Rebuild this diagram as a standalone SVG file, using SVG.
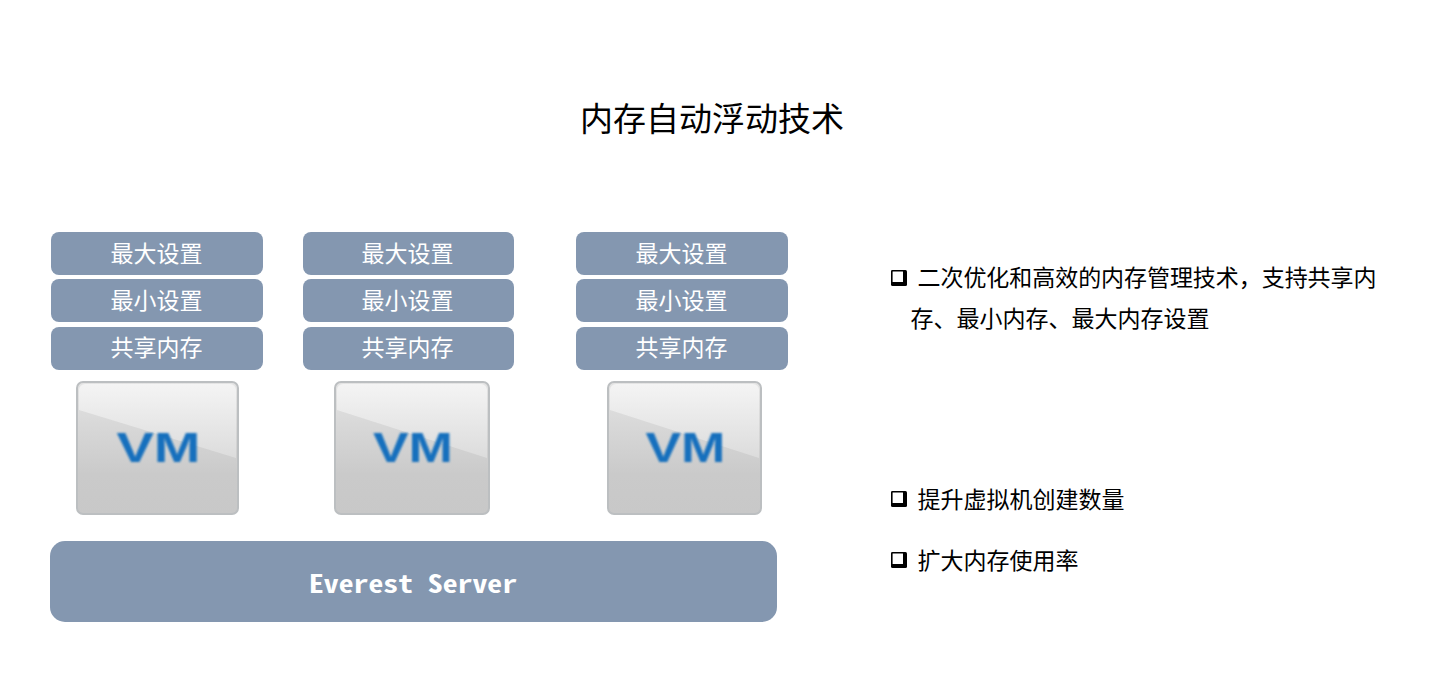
<svg xmlns="http://www.w3.org/2000/svg" width="1445" height="687" viewBox="0 0 1445 687">
<style>
text{font-family:"Noto Sans CJK SC","Noto Sans",sans-serif}
.b{fill:#8497b0}
.l{fill:#fff;font-size:23px;text-anchor:middle}
.t{fill:#000;font-size:23px}
.vm{fill:#1470bd;font-family:"Liberation Sans",sans-serif;font-weight:700;font-size:43px;text-anchor:middle}
.frame{fill:url(#low);stroke:#bcbfc1;stroke-width:2}
.gloss{fill:url(#g)}
.box{fill:#fff;stroke:#000;stroke-width:1.6}
.sh{fill:#000}
</style>
<defs>
<linearGradient id="g" x1="0" y1="0" x2="0" y2="1"><stop offset="0" stop-color="#f4f4f4"/><stop offset="1" stop-color="#dcdcdc"/></linearGradient>
<linearGradient id="low" x1="0" y1="0" x2="0" y2="1"><stop offset="0" stop-color="#e4e4e4"/><stop offset="0.7" stop-color="#cacaca"/><stop offset="1" stop-color="#c8c8c8"/></linearGradient>
<filter id="blur" x="-10%" y="-10%" width="120%" height="120%"><feGaussianBlur stdDeviation="0.8"/></filter>
<filter id="soft" x="-5%" y="-5%" width="110%" height="110%"><feGaussianBlur stdDeviation="0.6"/></filter>
<g id="bullet"><rect class="sh" x="0" y="0" width="16" height="16" rx="1.5"/><rect class="box" x="0.8" y="0.8" width="12" height="12" rx="1"/></g>
</defs>
<rect width="1445" height="687" fill="#fff"/>
<text x="712" y="131" font-size="33" text-anchor="middle" fill="#000">内存自动浮动技术</text>
<g id="conf1">
<rect class="b" x="51" y="232" width="212" height="43" rx="8"/><text class="l" x="156.500" y="262">最大设置</text>
<rect class="b" x="51" y="279" width="212" height="43" rx="8"/><text class="l" x="156.500" y="309">最小设置</text>
<rect class="b" x="51" y="327" width="212" height="43" rx="8"/><text class="l" x="156.500" y="356">共享内存</text>
</g>
<g id="conf2">
<rect class="b" x="303" y="232" width="211" height="43" rx="8"/><text class="l" x="407.500" y="262">最大设置</text>
<rect class="b" x="303" y="279" width="211" height="43" rx="8"/><text class="l" x="407.500" y="309">最小设置</text>
<rect class="b" x="303" y="327" width="211" height="43" rx="8"/><text class="l" x="407.500" y="356">共享内存</text>
</g>
<g id="conf3">
<rect class="b" x="576" y="232" width="212" height="43" rx="8"/><text class="l" x="681.500" y="262">最大设置</text>
<rect class="b" x="576" y="279" width="212" height="43" rx="8"/><text class="l" x="681.500" y="309">最小设置</text>
<rect class="b" x="576" y="327" width="212" height="43" rx="8"/><text class="l" x="681.500" y="356">共享内存</text>
</g>
<g id="vm1">
<rect class="frame" x="77" y="382" width="161" height="132" rx="6" filter="url(#soft)"/>
<path class="gloss" d="M79 390a6 6 0 0 1 6-6H230a6 6 0 0 1 6 6V458L79 410Z" filter="url(#soft)"/>
<text class="vm" x="158.500" y="462" filter="url(#blur)" textLength="84" lengthAdjust="spacingAndGlyphs">VM</text>
</g>
<g id="vm2">
<rect class="frame" x="335" y="382" width="154" height="132" rx="6" filter="url(#soft)"/>
<path class="gloss" d="M337 390a6 6 0 0 1 6-6H481a6 6 0 0 1 6 6V458L337 410Z" filter="url(#soft)"/>
<text class="vm" x="413" y="462" filter="url(#blur)" textLength="80" lengthAdjust="spacingAndGlyphs">VM</text>
</g>
<g id="vm3">
<rect class="frame" x="608" y="382" width="153" height="132" rx="6" filter="url(#soft)"/>
<path class="gloss" d="M610 390a6 6 0 0 1 6-6H753a6 6 0 0 1 6 6V458L610 410Z" filter="url(#soft)"/>
<text class="vm" x="685.500" y="462" filter="url(#blur)" textLength="80" lengthAdjust="spacingAndGlyphs">VM</text>
</g>
<g id="server">
<rect class="b" x="50" y="541" width="727" height="81" rx="15"/>
<text x="413" y="592.500" fill="#fff" font-size="25" font-weight="700" text-anchor="middle" textLength="208" lengthAdjust="spacingAndGlyphs" style="font-family:'Noto Sans Mono CJK SC','DejaVu Sans Mono','Liberation Mono',monospace">Everest Server</text>
</g>
<g id="notes">
<use href="#bullet" x="891" y="270"/>
<text class="t" x="917.500" y="286" textLength="459">二次优化和高效的内存管理技术，支持共享内</text>
<text class="t" x="910.500" y="327" textLength="299">存、最小内存、最大内存设置</text>
<use href="#bullet" x="891" y="491"/>
<text class="t" x="917.500" y="508">提升虚拟机创建数量</text>
<use href="#bullet" x="891" y="552"/>
<text class="t" x="917.500" y="569">扩大内存使用率</text>
</g>
<g id="connectors"/>
</svg>
